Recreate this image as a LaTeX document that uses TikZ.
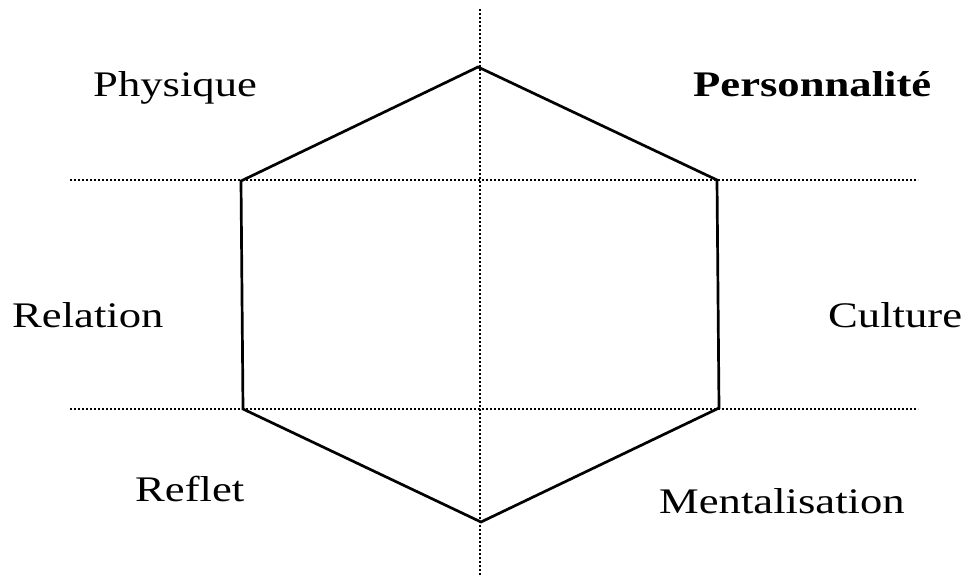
\documentclass[tikz,border=0pt]{standalone}
\usepackage{fontspec}
\setmainfont{Liberation Serif}
\begin{document}
\begin{tikzpicture}[x=1pt,y=-1pt,
  hexline/.style={line width=2.7pt,line join=miter},
  guide/.style={line width=2pt,dash pattern=on 2pt off 2pt},
  lbl/.style={anchor=base west,inner sep=0pt,font=\fontsize{36}{40}\selectfont}]
\useasboundingbox (0,0) rectangle (964,575);
% guide lines
\coordinate (vt) at (480,9);
\coordinate (vb) at (480,575);
\coordinate (h1l) at (70,180);
\coordinate (h1r) at (918,180);
\coordinate (h2l) at (70,409);
\coordinate (h2r) at (918,409);
\draw[guide] (vt) -- (vb);
\draw[guide] (h1l) -- (h1r);
\draw[guide] (h2l) -- (h2r);
% hexagon
\coordinate (T) at (478,67);
\coordinate (UR) at (717,180);
\coordinate (LR) at (719,408);
\coordinate (B) at (481,522);
\coordinate (LL) at (243,409);
\coordinate (UL) at (241,181);
\draw[hexline] (T) -- (UR) -- (LR) -- (B) -- (LL) -- (UL) -- cycle;
% labels
\node[lbl] (phys) at (93,97) {\scalebox{1.24}[1]{Physique}};
\node[lbl] (pers) at (693,97) {\scalebox{1.24}[1]{\bfseries Personnalité}};
\node[lbl] (rel) at (12,327) {\scalebox{1.24}[1]{Relation}};
\node[lbl] (cul) at (828,327) {\scalebox{1.24}[1]{Culture}};
\node[lbl] (ref) at (135,501) {\scalebox{1.24}[1]{Reflet}};
\node[lbl] (men) at (659,513) {\scalebox{1.24}[1]{Mentalisation}};
\end{tikzpicture}
\end{document}
